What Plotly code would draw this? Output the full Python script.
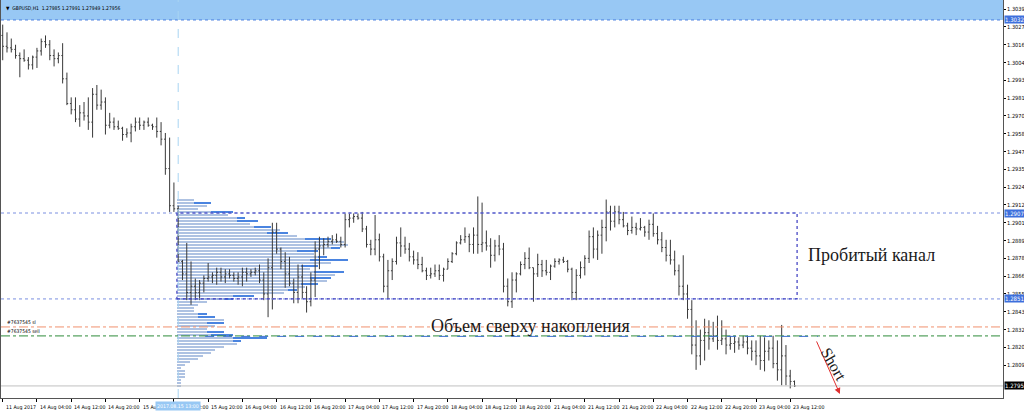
import plotly.graph_objects as go

# ---------------- data ----------------
first_open = 1.3022
high = [1.3029,1.3024,1.3020,1.3016,1.3011,1.3013,1.3008,1.3009,1.3014,1.3020,
1.3022,1.3019,1.3013,1.3011,1.3017,1.2998,1.2982,1.2982,1.2977,1.2979,
1.2982,1.2988,1.2990,1.2987,1.2982,1.2972,1.2969,1.2967,1.2963,1.2962,
1.2965,1.2969,1.2969,1.2967,1.2969,1.2965,1.2969,1.2966,1.2959,1.2956,
1.2927,1.2912,1.2877,1.2888,1.2876,1.2865,1.2864,1.2867,1.2875,1.2869,
1.2872,1.2872,1.2871,1.2871,1.2869,1.2869,1.2872,1.2872,1.2871,1.2872,
1.2874,1.2869,1.2878,1.2901,1.2901,1.2885,1.2882,1.2879,1.2865,1.2874,
1.2874,1.2860,1.2869,1.2889,1.2892,1.2891,1.2892,1.2893,1.2894,1.2892,
1.2907,1.2907,1.2907,1.2907,1.2908,1.2899,1.2890,1.2906,1.2894,1.2881,
1.2877,1.2878,1.2892,1.2898,1.2892,1.2888,1.2883,1.2882,1.2879,1.2872,
1.2872,1.2874,1.2874,1.2872,1.2878,1.2882,1.2889,1.2893,1.2898,1.2894,
1.2898,1.2918,1.2914,1.2896,1.2891,1.2890,1.2893,1.2888,1.2865,1.2869,
1.2869,1.2876,1.2882,1.2885,1.2872,1.2881,1.2877,1.2877,1.2874,1.2878,
1.2878,1.2879,1.2877,1.2872,1.2871,1.2876,1.2880,1.2896,1.2898,1.2896,
1.2903,1.2916,1.2912,1.2912,1.2912,1.2908,1.2901,1.2905,1.2901,1.2904,
1.2899,1.2903,1.2907,1.2899,1.2895,1.2890,1.2890,1.2883,1.2874,1.2880,
1.2861,1.2851,1.2838,1.2832,1.2839,1.2838,1.2837,1.2841,1.2838,1.2832,
1.2828,1.2828,1.2827,1.2828,1.2828,1.2825,1.2825,1.2828,1.2827,1.2825,
1.2828,1.2825,1.2835,1.2822,1.2806,1.27991]
low = [1.3006,1.3011,1.3011,1.3007,1.2995,1.3005,1.3000,1.3000,1.3001,1.3009,
1.3014,1.3006,1.3002,1.3004,1.2991,1.2977,1.2971,1.2966,1.2963,1.2967,
1.2961,1.2956,1.2974,1.2974,1.2958,1.2962,1.2961,1.2961,1.2954,1.2956,
1.2953,1.2960,1.2961,1.2961,1.2963,1.2961,1.2956,1.2951,1.2932,1.2908,
1.2908,1.2876,1.2864,1.2851,1.2848,1.2851,1.2851,1.2856,1.2863,1.2862,
1.2861,1.2863,1.2862,1.2865,1.2863,1.2861,1.2860,1.2863,1.2866,1.2867,
1.2862,1.2851,1.2840,1.2845,1.2881,1.2871,1.2859,1.2860,1.2849,1.2849,
1.2852,1.2843,1.2847,1.2853,1.2871,1.2880,1.2885,1.2887,1.2888,1.2885,
1.2885,1.2898,1.2901,1.2903,1.2895,1.2885,1.2880,1.2880,1.2876,1.2856,
1.2852,1.2864,1.2874,1.2879,1.2881,1.2876,1.2874,1.2871,1.2869,1.2864,
1.2865,1.2866,1.2864,1.2863,1.2871,1.2875,1.2880,1.2887,1.2888,1.2882,
1.2881,1.2881,1.2882,1.2883,1.2872,1.2876,1.2880,1.2856,1.2847,1.2846,
1.2856,1.2867,1.2871,1.2871,1.2850,1.2866,1.2866,1.2867,1.2864,1.2872,
1.2874,1.2875,1.2869,1.2851,1.2851,1.2865,1.2867,1.2875,1.2878,1.2877,
1.2881,1.2889,1.2896,1.2898,1.2900,1.2898,1.2893,1.2894,1.2893,1.2896,
1.2892,1.2890,1.2892,1.2887,1.2882,1.2876,1.2874,1.2867,1.2854,1.2851,
1.2839,1.2816,1.2806,1.2809,1.2812,1.2819,1.2824,1.2819,1.2822,1.2816,
1.2819,1.2817,1.2819,1.2820,1.2816,1.2812,1.2809,1.2806,1.2805,1.2812,
1.2807,1.2799,1.2796,1.2796,1.2794,1.27949]
close = [1.3015,1.3014,1.3013,1.3009,1.3007,1.3006,1.3003,1.3008,1.3012,1.3018,
1.3016,1.3009,1.3007,1.3009,1.2994,1.2978,1.2974,1.2968,1.2972,1.2970,
1.2966,1.2984,1.2977,1.2979,1.2964,1.2966,1.2963,1.2962,1.2958,1.2959,
1.2963,1.2966,1.2964,1.2966,1.2964,1.2963,1.2960,1.2955,1.2936,1.2912,
1.2910,1.2876,1.2868,1.2856,1.2860,1.2856,1.2862,1.2865,1.2866,1.2867,
1.2869,1.2866,1.2868,1.2867,1.2865,1.2866,1.2869,1.2868,1.2869,1.2870,
1.2864,1.2855,1.2872,1.2895,1.2884,1.2876,1.2868,1.2862,1.2856,1.2866,
1.2856,1.2850,1.2864,1.2884,1.2886,1.2887,1.2889,1.2890,1.2889,1.2887,
1.2903,1.2904,1.2905,1.2904,1.2897,1.2887,1.2884,1.2890,1.2879,1.2860,
1.2870,1.2876,1.2888,1.2886,1.2884,1.2879,1.2877,1.2874,1.2870,1.2867,
1.2868,1.2870,1.2867,1.2871,1.2876,1.2881,1.2888,1.2890,1.2892,1.2887,
1.2893,1.2887,1.2888,1.2886,1.2880,1.2886,1.2884,1.2860,1.2850,1.2864,
1.2868,1.2874,1.2878,1.2872,1.2868,1.2874,1.2870,1.2869,1.2873,1.2876,
1.2877,1.2876,1.2871,1.2856,1.2867,1.2872,1.2878,1.2892,1.2884,1.2893,
1.2898,1.2908,1.2902,1.2908,1.2903,1.2899,1.2896,1.2898,1.2897,1.2898,
1.2895,1.2900,1.2894,1.2890,1.2885,1.2880,1.2877,1.2870,1.2860,1.2855,
1.2845,1.2822,1.2815,1.2825,1.2830,1.2826,1.2828,1.2825,1.2826,1.2822,
1.2823,1.2824,1.2822,1.2824,1.2820,1.2818,1.2815,1.2812,1.2818,1.2820,
1.2810,1.2806,1.2815,1.2802,1.27985,1.27956]
open_ = [first_open] + close[:-1]
bar_index = list(range(len(close)))

# time-axis labels (bar index of each label)
time_tick_idx = [0, 8, 16, 24, 32, 40, 48, 56, 64, 72, 80, 88, 96, 104, 112, 120,
                 128, 136, 144, 152, 160, 168, 176, 184]
time_tick_txt = ["11 Aug 2017", "14 Aug 04:00", "14 Aug 12:00", "14 Aug 20:00",
                 "15 Aug 04:00", "15 Aug 12:00", "15 Aug 20:00", "16 Aug 04:00",
                 "16 Aug 12:00", "16 Aug 20:00", "17 Aug 04:00", "17 Aug 12:00",
                 "17 Aug 20:00", "18 Aug 04:00", "18 Aug 12:00", "18 Aug 20:00",
                 "21 Aug 04:00", "21 Aug 12:00", "21 Aug 20:00", "22 Aug 04:00",
                 "22 Aug 12:00", "22 Aug 20:00", "23 Aug 04:00", "23 Aug 12:00"]

price_ticks = [1.30390, 1.30275, 1.30160, 1.30045, 1.29930, 1.29815, 1.29700,
               1.29585, 1.29470, 1.29355, 1.29240, 1.29125, 1.29010, 1.28895,
               1.28780, 1.28665, 1.28550, 1.28435, 1.28320, 1.28205, 1.28090]
price_tick_txt = ["1.30390", "1.30275", "1.30160", "1.30045", "1.29930", "1.29815",
                  "1.29700", "1.29585", "1.29470", "1.29355", "1.29240", "1.29125",
                  "1.29010", "1.28895", "1.28780", "1.28665", "1.28550", "1.28435",
                  "1.28320", "1.28205", "1.28090"]

# volume / TPO profile (price level, total count, highlighted count)
profile_price = [1.29157,1.29138,1.29118,1.29099,1.29080,1.29060,1.29041,1.29022,1.29002,1.28983,
1.28963,1.28944,1.28925,1.28905,1.28886,1.28866,1.28847,1.28828,1.28808,1.28789,
1.28770,1.28750,1.28731,1.28711,1.28692,1.28673,1.28653,1.28634,1.28615,1.28595,
1.28576,1.28556,1.28537,1.28518,1.28498,1.28479,1.28459,1.28440,1.28421,1.28401,
1.28382,1.28363,1.28343,1.28324,1.28304,1.28285,1.28266,1.28246,1.28227,1.28207,
1.28188,1.28169,1.28149,1.28130,1.28111,1.28091,1.28072,1.28052,1.28033,1.28014,
1.27994,1.27975,1.27956]
profile_total = [4,8,7,5,13,12,16,19,17,22,24,26,28,36,39,40,38,33,32,35,
40,36,33,31,39,37,36,35,33,30,28,25,18,13,7,5,4,4,7,9,
11,11,9,7,11,13,21,15,14,11,9,8,6,5,3,2,1,2,2,2,1,1,1]
profile_dark = [0,4,0,0,5,0,2,5,0,4,0,5,0,6,0,0,2,5,0,2,
9,0,4,0,7,0,5,0,4,0,2,0,5,2,0,0,0,0,2,4,
0,4,0,0,4,5,8,2,0,0,0,0,0,0,0,0,0,0,0,0,0,0,0]
profile_start = 40.7          # bar index where the profile begins (vertical line)

channel_top = 1.29073
channel_bottom = 1.28518
channel_end = 185.6
band_price = 1.30320
sl_price = 1.28337
sell_price = 1.28279
vline_idx = 41
last_price = 1.27956

Y_MIN, Y_MAX = 1.27878, 1.30449
X_MIN, X_MAX = -0.40, 233.71

tiny = "Liberation Sans Narrow, DejaVu Sans Condensed, Arial Narrow, sans-serif"
serif = "Liberation Serif, Times New Roman, DejaVu Serif, serif"

fig = go.Figure()

profile_light = [t - d for t, d in zip(profile_total, profile_dark)]
fig.add_trace(go.Bar(orientation="h", y=profile_price, x=profile_light,
                     base=[profile_start] * len(profile_price), width=0.000175,
                     marker=dict(color="#AEC2E2", line=dict(width=0)),
                     showlegend=False, hoverinfo="skip"))
fig.add_trace(go.Bar(orientation="h", y=profile_price, x=profile_dark,
                     base=[profile_start + l for l in profile_light], width=0.000175,
                     marker=dict(color="#4A84E0", line=dict(width=0)),
                     showlegend=False, hoverinfo="skip"))

fig.add_trace(go.Ohlc(x=bar_index, open=open_, high=high, low=low, close=close,
                      increasing=dict(line=dict(color="#383838", width=1)),
                      decreasing=dict(line=dict(color="#383838", width=1)),
                      tickwidth=0.3, showlegend=False, hoverinfo="skip"))

shapes = []
# header band
shapes.append(dict(type="rect", xref="paper", x0=0, x1=1, yref="y", y0=band_price, y1=Y_MAX,
                   fillcolor="#98C8F4", line=dict(width=0), layer="below"))
shapes.append(dict(type="line", xref="paper", x0=0, x1=1, yref="y", y0=band_price, y1=band_price,
                   line=dict(color="#4C7FE0", width=1, dash="dot")))
# vertical line
shapes.append(dict(type="line", xref="x", x0=vline_idx, x1=vline_idx, yref="paper", y0=0, y1=1,
                   line=dict(color="#A8D4F2", width=1, dash="dash")))
# channel horizontals
for p in (channel_top, channel_bottom):
    shapes.append(dict(type="line", xref="paper", x0=0, x1=1, yref="y", y0=p, y1=p,
                       line=dict(color="#7A8FE0", width=1, dash="dot")))
# channel rectangle
shapes.append(dict(type="rect", xref="x", x0=profile_start, x1=channel_end, yref="y",
                   y0=channel_bottom, y1=channel_top,
                   line=dict(color="#3A3AC0", width=1.2, dash="dot")))
# sl / sell lines
shapes.append(dict(type="line", xref="paper", x0=0, x1=1, yref="y", y0=sl_price, y1=sl_price,
                   line=dict(color="#F0906E", width=1, dash="dashdot")))
shapes.append(dict(type="line", xref="paper", x0=0, x1=1, yref="y", y0=sell_price, y1=sell_price,
                   line=dict(color="#2E8B3A", width=1, dash="dashdot")))
# blue dashed level line
shapes.append(dict(type="line", xref="x", x0=47.3, x1=190.5, yref="y", y0=sell_price - 0.00003,
                   y1=sell_price - 0.00003, line=dict(color="#3C6FD0", width=1, dash="dash")))
# last price line
shapes.append(dict(type="line", xref="paper", x0=0, x1=1, yref="y", y0=last_price, y1=last_price,
                   line=dict(color="#C0C0C0", width=1)))

ann = []
# header text
ann.append(dict(xref="paper", yref="paper", x=0.003, y=1, xanchor="left", yanchor="top", yshift=-3,
                text="▼  GBPUSD,H1  1.27985 1.27991 1.27949 1.27956", showarrow=False,
                font=dict(family=tiny, size=5, color="#000")))
# time labels
for i, t in zip(time_tick_idx, time_tick_txt):
    ann.append(dict(xref="x", yref="paper", x=i, y=0, xanchor="left", yanchor="top",
                    xshift=1, yshift=-4, text=t, showarrow=False,
                    font=dict(family=tiny, size=5.2, color="#000")))
# vertical line time label
ann.append(dict(xref="x", yref="paper", x=vline_idx, y=0, xanchor="center", yanchor="top",
                yshift=-3, text="2017.08.15 13:00", showarrow=False, bgcolor="#98C8F4",
                borderpad=1, font=dict(family=tiny, size=5.2, color="#FFFFFF")))
# highlighted price labels
for p, txt, bg in ((band_price, "1.30320", "#3D6FDC"), (channel_top, "1.29073", "#3D6FDC"),
                   (channel_bottom, "1.28518", "#3D6FDC"), (last_price, "1.27956", "#000000")):
    ann.append(dict(xref="paper", yref="y", x=1, y=p, xanchor="left", yanchor="middle",
                    xshift=1, text=txt, showarrow=False, bgcolor=bg, borderpad=0,
                    font=dict(family=tiny, size=6, color="#FFFFFF")))
# order labels
ann.append(dict(xref="paper", yref="y", x=0.004, y=sl_price, xanchor="left", yanchor="bottom",
                text="#7637545 sl", showarrow=False, font=dict(family=tiny, size=5, color="#000")))
ann.append(dict(xref="paper", yref="y", x=0.004, y=sell_price, xanchor="left", yanchor="bottom",
                text="#7637545 sell", showarrow=False, font=dict(family=tiny, size=5, color="#000")))
# text labels
ann.append(dict(xref="x", yref="y", x=202.9, y=1.28802, text="Пробитый канал", showarrow=False,
                font=dict(family=serif, size=18, color="#1a1a1a")))
ann.append(dict(xref="x", yref="y", x=123.4, y=1.28345, text="Объем сверху накопления",
                showarrow=False, font=dict(family=serif, size=18, color="#1a1a1a")))
ann.append(dict(xref="x", yref="y", x=195.6, y=1.27904, ax=190.0, ay=1.28253, axref="x", ayref="y",
                text="", showarrow=True, arrowhead=2, arrowsize=1.2, arrowwidth=1,
                arrowcolor="#E03030"))
ann.append(dict(xref="x", yref="y", x=194.0, y=1.28098, text="Short", textangle=60,
                showarrow=False, font=dict(family=serif, size=16, color="#1a1a1a")))

fig.update_layout(
    width=1024, height=414,
    margin=dict(l=1, r=21, t=0, b=16, autoexpand=False),
    paper_bgcolor="#FFFFFF", plot_bgcolor="#FFFFFF",
    barmode="overlay", bargap=0,
    shapes=shapes, annotations=ann,
    showlegend=False, hovermode=False,
    xaxis=dict(range=[X_MIN, X_MAX], showgrid=False, zeroline=False, automargin=False,
               rangeslider=dict(visible=False), tickmode="array", tickvals=time_tick_idx,
               showticklabels=False, ticks="outside", ticklen=3, tickcolor="#000",
               showline=True, linecolor="#555", linewidth=1),
    yaxis=dict(range=[Y_MIN, Y_MAX], side="right", showgrid=False, zeroline=False,
               automargin=False,
               tickmode="array", tickvals=price_ticks, ticktext=price_tick_txt,
               ticks="outside", ticklen=2, tickcolor="#000",
               tickfont=dict(family=tiny, size=5.6, color="#000"),
               showline=True, linecolor="#555", linewidth=1, mirror=True),
)

fig.write_html("out.html", config={"displayModeBar": False},
               post_script="document.body.style.margin='0px';document.body.style.overflow='hidden';")
